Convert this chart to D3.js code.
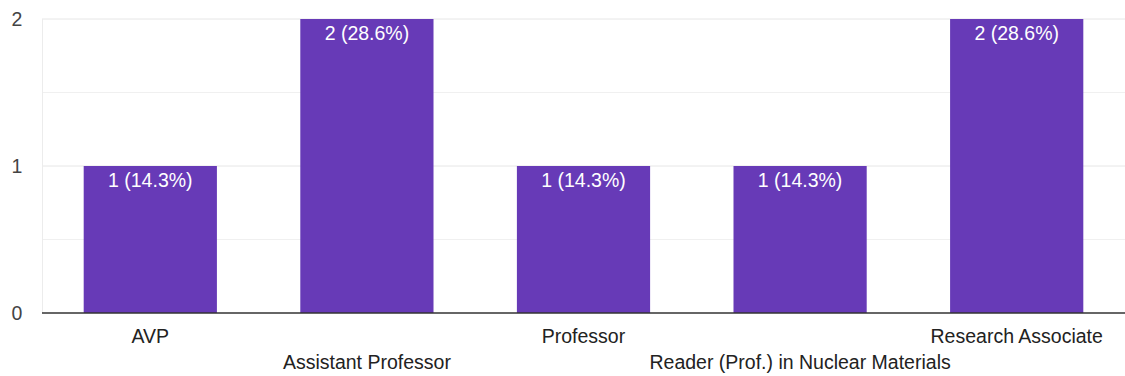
<!DOCTYPE html>
<html>
<head>
<meta charset="utf-8">
<script src="https://cdn.jsdelivr.net/npm/d3@7"></script>
<style>
  body { margin: 0; background: #fff; }
  svg text { font-family: "Liberation Sans", Arial, sans-serif; }
</style>
</head>
<body>
<div id="chart"></div>
<script>
var categories = ["AVP", "Assistant Professor", "Professor", "Reader (Prof.) in Nuclear Materials", "Research Associate"];
var counts = [1, 2, 1, 1, 2];
var percents = ["14.3%", "28.6%", "14.3%", "14.3%", "28.6%"];
var yTicks = [0, 1, 2];
var gridTicks = [0.5, 1, 1.5, 2];

var width = 1125, height = 376;
var margin = {top: 19, right: 0, bottom: 63, left: 42};
var fs = 19.5;

var svg = d3.select("#chart").append("svg")
    .attr("width", width).attr("height", height);

var x = d3.scaleBand()
    .domain(categories)
    .range([margin.left, width - margin.right])
    .paddingInner(0.385)
    .paddingOuter(0.1925);

var y = d3.scaleLinear()
    .domain([0, 2])
    .range([height - margin.bottom, margin.top]);

// gridlines
svg.append("g").selectAll("line")
    .data(gridTicks)
  .enter().append("line")
    .attr("x1", margin.left).attr("x2", width - margin.right)
    .attr("y1", function(d) { return y(d); })
    .attr("y2", function(d) { return y(d); })
    .attr("stroke", function(d) { return d % 1 === 0 ? "#e6e6e6" : "#f0f0f0"; })
    .attr("stroke-width", 1);

// left edge
svg.append("line")
    .attr("x1", margin.left + 0.5).attr("x2", margin.left + 0.5)
    .attr("y1", y(2)).attr("y2", y(0))
    .attr("stroke", "#ececec");

// y labels
svg.append("g").selectAll("text")
    .data(yTicks)
  .enter().append("text")
    .attr("x", 17)
    .attr("y", function(d) { return y(d) + 7; })
    .attr("text-anchor", "middle")
    .attr("font-size", fs)
    .attr("fill", "#444")
    .text(function(d) { return d; });

// bars
var bars = svg.append("g").selectAll(".bar")
    .data(categories)
  .enter().append("g").attr("class", "bar");

bars.append("rect")
    .attr("x", function(d) { return x(d); })
    .attr("width", x.bandwidth())
    .attr("y", function(d, i) { return y(counts[i]); })
    .attr("height", function(d, i) { return y(0) - y(counts[i]); })
    .attr("fill", "#673ab7");

bars.append("text")
    .attr("x", function(d) { return x(d) + x.bandwidth() / 2; })
    .attr("y", function(d, i) { return y(counts[i]) + 21; })
    .attr("text-anchor", "middle")
    .attr("font-size", fs)
    .attr("fill", "#fff")
    .text(function(d, i) { return counts[i] + " (" + percents[i] + ")"; });

// baseline
svg.append("line")
    .attr("x1", margin.left).attr("x2", width - margin.right)
    .attr("y1", y(0)).attr("y2", y(0))
    .attr("stroke", "#333").attr("stroke-width", 1.5);

// x labels, staggered
svg.append("g").selectAll("text")
    .data(categories)
  .enter().append("text")
    .attr("x", function(d) { return x(d) + x.bandwidth() / 2; })
    .attr("y", function(d, i) { return y(0) + (i % 2 === 0 ? 30 : 56); })
    .attr("text-anchor", "middle")
    .attr("font-size", fs)
    .attr("fill", "#222")
    .text(function(d) { return d; });
</script>
</body>
</html>
